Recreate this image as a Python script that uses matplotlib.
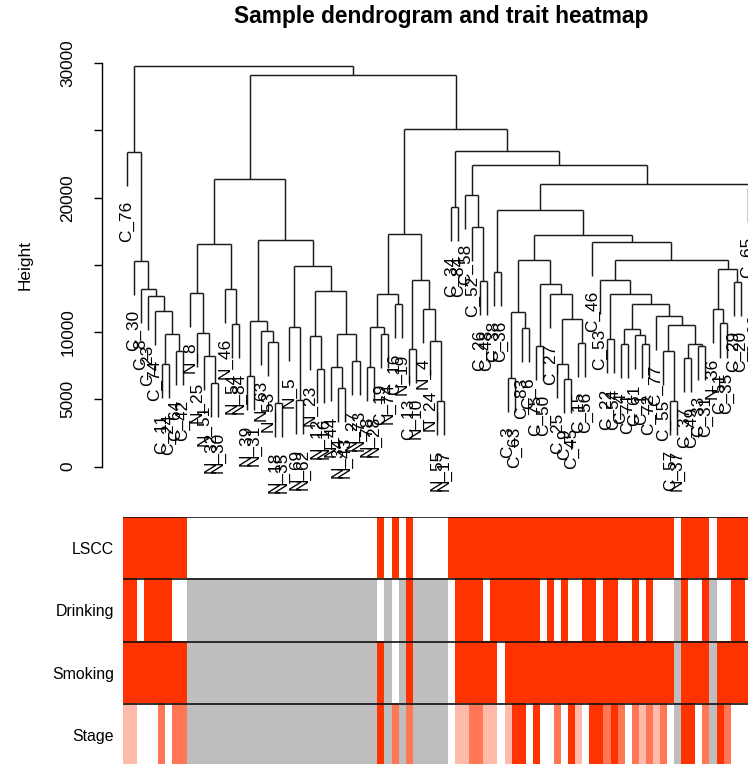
import numpy as np
import matplotlib
matplotlib.use("Agg")
import matplotlib.pyplot as plt
from matplotlib.colors import to_rgb

plt.rcParams['font.family'] = ['Liberation Sans', 'DejaVu Sans']

# ---------------- data ----------------
sample_labels = [
    "C_76", "C_30", "C_8", "C_23", "C_74", "C_11", "C_24", "C_64", "C_42",
    "N_8", "N_25", "N_51", "N_32", "N_30", "N_46", "N_54", "N_84", "N_39",
    "N_31", "N_63", "N_53", "N_18", "N_35", "N_5", "N_69", "N_62", "N_23",
    "N_12", "N_16", "N_44", "N_34", "N_43", "N_27", "N_73", "N_78", "N_28",
    "C_19", "N_74", "C_16", "N_19", "C_13", "N_10", "N_4", "N_24", "N_55",
    "N_17", "C_34", "C_84", "C_58", "C_52", "C_26", "C_48", "C_38", "C_36",
    "C_3", "C_63", "C_83", "C_6", "C_75", "C_50", "C_27", "C_25", "C_9",
    "C_45", "C_15", "C_56", "C_46", "C_53", "C_22", "C_54", "C_4", "C_71",
    "C_61", "C_1", "C_72", "C_77", "C_55", "C_57", "N_37", "C_37", "C_49",
    "C_33", "C_31", "N_36", "C_51", "C_35", "C_29", "C_20", "C_65", "C_60",
    "C_68",
]

# hclust-style merges: negative = leaf -(i+1), positive = earlier merge (1-based)
merge_left = [
    -6, -8, 1, -5, -4, -3, -2, -1, -13, -12, -11, -10, -16, -15, 12,
    -18, -22, -21, -20, 16, -25, -24, -28, -27, -31, -30, -33, 26, 24, 22,
    20, 15, -35, -37, 33, -39, 35, -41, -45, -44, -43, 38, 37, -47, -51,
    -50, -49, -53, -55, -57, 49, -59, -63, -62, -65, 54, -61, 52, 51, -69,
    -71, -74, -73, 61, -78, -77, -80, -82, 67, 66, -76, 64, 60, -68, -85,
    -84, -87, 76, 74, -67, 59, 48, -90, -89, 82, 47, 44, 43, 32, 8,
]
merge_right = [
    -7, -9, 2, 3, 4, 5, 6, 7, -14, 9, 10, 11, -17, 13, 14,
    -19, -23, 17, 18, 19, -26, 21, -29, 23, -32, 25, -34, 27, 28, 29,
    30, 31, -36, -38, 34, -40, 36, -42, -46, 39, 40, 41, 42, -48, -52,
    45, 46, -54, -56, -58, 50, -60, -64, 53, -66, 55, 56, 57, 58, -70,
    -72, -75, 62, 63, -79, 65, -81, -83, 68, 69, 70, 71, 72, 73, -86,
    75, -88, 77, 78, 79, 80, 81, -91, 83, 84, 85, 86, 87, 88, 89,
]
merge_height = [
    7590, 8630, 9880, 11560, 12680, 13180, 15280, 23400, 6230, 8210,
    9950, 12930, 10570, 13180, 16530, 6720, 4730, 9250, 10070, 10820,
    4960, 10370, 7270, 9700, 5860, 7420, 7840, 9880, 13030, 14900,
    16820, 21360, 7420, 9830, 10400, 12060, 12860, 8710, 4860, 9330,
    11740, 13870, 17270, 19300, 13800, 17800, 20200, 14500, 6600, 10270,
    11520, 8960, 6480, 7640, 9200, 10940, 12800, 13550, 15330, 9450,
    9150, 9080, 9750, 10200, 4860, 8630, 8090, 8930, 9130, 10520,
    11190, 12060, 12800, 13870, 10640, 11740, 13750, 14670, 15400, 16700,
    17200, 19100, 15000, 20700, 21040, 22400, 23470, 25090, 29100, 29800,
]

nan = np.nan
LSCC = [1]*9 + [0]*27 + [1, 0, 1, 0, 1] + [0]*5 + [1]*32 + [0] + [1]*4 + [0] + [1]*7
Drinking = ([1, 1, 0, 1, 1, 1, 1, 0, 0] + [nan]*27 +
            [0, nan, 0, nan, 1] + [nan]*5 +
            [0, 1, 1, 1, 1, 0, 1, 1, 1, 1, 1, 1, 1, 0, 1, 0, 1, 0, 0, 1, 1, 0,
             1, 1, 0, 0, 1, 0, 1, 0, 0, 0, nan, 1, 0, 0, 1, nan, 0, 0, 1, 1, 0, 1, 0])
Smoking = ([1]*9 + [nan]*27 + [1, nan, 0, nan, 1] + [nan]*5 +
           [0] + [1]*6 + [0] + [1]*24 + [nan] + [1]*4 + [nan] + [1]*7)
Stage = ([1, 1, 0, 0, 0, 2, 0, 2, 2] + [nan]*27 +
         [3, nan, 2, nan, 2] + [nan]*5 +
         [0, 1, 1, 2, 2, 1, 1, 0, 1, 3, 3, 0, 3, 0, 0, 2, 0, 3, 1, 0, 3, 3,
          2, 3, 2, 0, 2, 1, 2, 1, 2, 0, nan, 3, 3, 0, 2, nan, 3, 2, 0, 0, 0, 0, 0])
trait_names = ["LSCC", "Drinking", "Smoking", "Stage"]
trait_max = [1, 1, 1, 3]

y_ticks = [0, 5000, 10000, 15000, 20000, 25000, 30000]
y_tick_labels = ["0", "5000", "10000", "", "20000", "", "30000"]

# ---------------- figure ----------------
W, H = 748, 764
fig = plt.figure(figsize=(W / 100, H / 100), dpi=100)

def fx(px):
    return px / W

def fy(py):
    return 1 - py / H

n = len(sample_labels)
x_left, x_right = 123, 123 + n * 7.06
ax = fig.add_axes([fx(x_left), fy(466.5), fx(x_right) - fx(x_left), fy(63.3) - fy(466.5)])
ax.set_xlim(-0.5, n - 0.5)
ax.set_ylim(0, 30000)

hang = 2530
gap = 1100
lc = '#1a1a1a'
lw = 1.05
node_x, node_h = {}, {}
for k, (a, b, h) in enumerate(zip(merge_left, merge_right, merge_height), start=1):
    xs = []
    for c in (a, b):
        if c < 0:
            i = -c - 1
            cx, ch = i, h - hang
            ax.text(i, ch - gap, sample_labels[i], rotation=90, ha='center', va='top',
                    fontsize=12.4, clip_on=False)
        else:
            cx, ch = node_x[c], node_h[c]
        ax.plot([cx, cx], [ch, h], color=lc, lw=lw, solid_capstyle='butt', clip_on=False)
        xs.append(cx)
    ax.plot(xs, [h, h], color=lc, lw=lw, solid_capstyle='butt', clip_on=False)
    node_x[k] = (xs[0] + xs[1]) / 2
    node_h[k] = h

for s in ['top', 'right', 'bottom']:
    ax.spines[s].set_visible(False)
ax.spines['left'].set_position(('outward', (x_left - 101.7) * 0.72))
ax.spines['left'].set_bounds(0, 30000)
ax.spines['left'].set_linewidth(1.0)
ax.set_xticks([])
ax.set_yticks(y_ticks)
ax.set_yticklabels(y_tick_labels, rotation=90, va='center')
ax.tick_params(axis='y', length=6, width=1.0, pad=13, labelsize=12.4)
ax.patch.set_alpha(0)

fig.text(fx(25), fy(265), "Height", rotation=90, ha='center', va='center', fontsize=12.4)
fig.text(fx(441), fy(17), "Sample dendrogram and trait heatmap", ha='center', va='center',
         fontsize=16.4, fontweight='bold')

# ---------------- heatmap ----------------
red = np.array(to_rgb('#FF3300'))
white = np.ones(3)
grey = np.array(to_rgb('#BEBEBE'))
traits = [LSCC, Drinking, Smoking, Stage]
img = np.zeros((len(traits), n, 3))
for r, (vals, vmax) in enumerate(zip(traits, trait_max)):
    for i, v in enumerate(vals):
        if np.isnan(v):
            img[r, i] = grey
        else:
            t = v / vmax
            img[r, i] = white * (1 - t) + red * t

row_h = 62.4
hx = fig.add_axes([fx(x_left), fy(516.7 + 4 * row_h), fx(x_right) - fx(x_left),
                   fy(516.7) - fy(516.7 + 4 * row_h)])
hx.imshow(img, aspect='auto', interpolation='nearest', extent=(-0.5, n - 0.5, 4, 0))
hx.set_xlim(-0.5, n - 0.5)
hx.set_ylim(4, 0)
for yb in range(5):
    hx.axhline(yb, color='#111111', lw=1.2)
for s in hx.spines.values():
    s.set_visible(False)
hx.set_xticks([])
hx.set_yticks(np.arange(len(trait_names)) + 0.5)
hx.set_yticklabels(trait_names, fontsize=11.4)
hx.tick_params(axis='y', length=0, pad=6.5)

fig.savefig("out.png", dpi=100)
